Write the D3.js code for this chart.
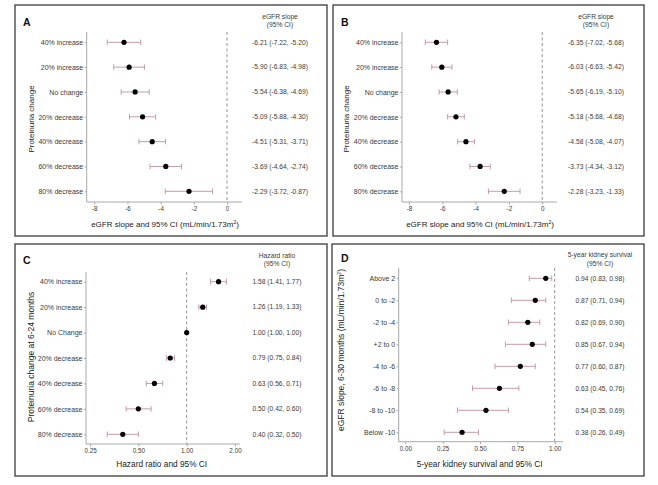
<!DOCTYPE html>
<html><head><meta charset="utf-8">
<script src="https://cdn.jsdelivr.net/npm/d3@7"></script>
<style>
html,body{margin:0;padding:0;background:#fff;}
svg{display:block;font-family:"Liberation Sans",Arial,Helvetica,sans-serif;}
</style></head>
<body>
<svg id="chart" width="658" height="485"></svg>
<script>
// ---------- DATA ----------
const catsAB = ["40% increase","20% increase","No change","20% decrease","40% decrease","60% decrease","80% decrease"];
const catsC  = ["40% increase","20% increase","No Change","20% decrease","40% decrease","60% decrease","80% decrease"];
const catsD  = ["Above 2","0 to -2","-2 to -4","+2 to 0","-4 to -6","-6 to -8","-8 to -10","Below -10"];

const estA = [-6.21,-5.90,-5.54,-5.09,-4.51,-3.69,-2.29];
const loA  = [-7.22,-6.83,-6.38,-5.88,-5.31,-4.64,-3.72];
const hiA  = [-5.20,-4.98,-4.69,-4.30,-3.71,-2.74,-0.87];

const estB = [-6.35,-6.03,-5.65,-5.18,-4.58,-3.73,-2.28];
const loB  = [-7.02,-6.63,-6.19,-5.68,-5.08,-4.34,-3.23];
const hiB  = [-5.68,-5.42,-5.10,-4.68,-4.07,-3.12,-1.33];

const estC = [1.58,1.26,1.00,0.79,0.63,0.50,0.40];
const loC  = [1.41,1.19,1.00,0.75,0.56,0.42,0.32];
const hiC  = [1.77,1.33,1.00,0.84,0.71,0.60,0.50];

const estD = [0.94,0.87,0.82,0.85,0.77,0.63,0.54,0.38];
const loD  = [0.83,0.71,0.69,0.67,0.60,0.45,0.35,0.26];
const hiD  = [0.98,0.94,0.90,0.94,0.87,0.76,0.69,0.49];

const ticksAB = [-8,-6,-4,-2,0];
const ticksC  = [0.25,0.5,1,2];
const ticksD  = [0,0.25,0.5,0.75,1];

// ---------- DRAW ----------
const svg = d3.select("#chart");
const ERR = "#c99aa6", AXIS = "#a8a8a8", TXT = "#3a3a3a";
const fmt = v => v.toFixed(2);

function panel(p){
  const g = svg.append("g");
  g.append("rect").attr("x",p.box[0]).attr("y",p.box[1])
    .attr("width",p.box[2]-p.box[0]).attr("height",p.box[3]-p.box[1])
    .attr("fill","none").attr("stroke","#3a3a3a").attr("stroke-width",1.3);
  g.append("text").attr("x",p.letter[0]).attr("y",p.letter[1])
    .attr("font-size",10.5).attr("font-weight","bold").attr("fill","#111").text(p.name);

  const x = p.scale.range([p.xr[0],p.xr[1]]);
  const y = d3.scalePoint().domain(p.cats).range([p.rows[0],p.rows[1]]);

  g.append("line").attr("x1",x(p.ref)).attr("x2",x(p.ref))
    .attr("y1",p.yTop).attr("y2",p.yBot)
    .attr("stroke","#888").attr("stroke-width",0.9).attr("stroke-dasharray","3,2.5");

  const xa = g.append("g").attr("transform",`translate(0,${p.yBot})`)
    .call(d3.axisBottom(x).tickValues(p.ticks).tickFormat(p.tf).tickSize(2.5).tickSizeOuter(0));
  xa.select(".domain").attr("d",`M${p.xr[0]},0H${p.xr[1]}`).attr("stroke",AXIS);
  xa.selectAll(".tick line").attr("stroke",AXIS);
  xa.selectAll(".tick text").attr("fill",TXT).attr("font-size",6.3).attr("dy","0.6em")
    .attr("font-family","Liberation Sans, Arial, sans-serif");

  const ya = g.append("g").attr("transform",`translate(${p.xr[0]},0)`)
    .call(d3.axisLeft(y).tickSize(2).tickPadding(1.5));
  ya.select(".domain").attr("d",`M0,${p.yTop}V${p.yBot}`).attr("stroke",AXIS);
  ya.selectAll(".tick line").attr("stroke",AXIS);
  ya.selectAll(".tick text").attr("fill",TXT).attr("font-size",7)
    .attr("font-family","Liberation Sans, Arial, sans-serif");

  const data = p.cats.map((c,i)=>({c, e:p.est[i], lo:p.lo[i], hi:p.hi[i]}));
  const cap = 2.8;
  const eb = g.append("g").selectAll("g").data(data).join("g");
  eb.append("line").attr("x1",d=>x(d.lo)).attr("x2",d=>x(d.hi))
    .attr("y1",d=>y(d.c)).attr("y2",d=>y(d.c)).attr("stroke",ERR).attr("stroke-width",1);
  eb.append("line").attr("x1",d=>x(d.lo)).attr("x2",d=>x(d.lo))
    .attr("y1",d=>y(d.c)-cap).attr("y2",d=>y(d.c)+cap).attr("stroke",ERR).attr("stroke-width",1);
  eb.append("line").attr("x1",d=>x(d.hi)).attr("x2",d=>x(d.hi))
    .attr("y1",d=>y(d.c)-cap).attr("y2",d=>y(d.c)+cap).attr("stroke",ERR).attr("stroke-width",1);
  eb.append("circle").attr("cx",d=>x(d.e)).attr("cy",d=>y(d.c)).attr("r",2.6).attr("fill","#000");

  g.append("g").selectAll("text").data(data).join("text")
    .attr("x",p.txtX).attr("y",d=>y(d.c)).attr("dy","0.35em").attr("text-anchor","middle")
    .attr("font-size",6.7).attr("fill",TXT)
    .text(d=>`${fmt(d.e)} (${fmt(d.lo)}, ${fmt(d.hi)})`);
  p.head.forEach((h,i)=>{
    g.append("text").attr("x",p.txtX).attr("y",p.headY[i]).attr("dy","0.35em")
      .attr("text-anchor","middle").attr("font-size",6.7).attr("fill",TXT).text(h);
  });

  const xt = g.append("text").attr("x",p.xt[0]).attr("y",p.xt[1]).attr("dy","0.35em")
    .attr("text-anchor","middle").attr("font-size",p.tfs).attr("fill","#222");
  p.xtitle(xt);
  const yt = g.append("text").attr("transform",`translate(${p.yt[0]},${p.yt[1]}) rotate(-90)`)
    .attr("dy","0.35em").attr("text-anchor","middle").attr("font-size",p.yfs).attr("fill","#222");
  p.ytitle(yt);
}

function unitTitle(sel, pre){
  sel.append("tspan").text(pre + "(mL/min/1.73m");
  sel.append("tspan").attr("font-size",5).attr("dy","-3.2").text("2");
  sel.append("tspan").attr("dy","3.2").text(")");
}
const plain = s => sel => sel.text(s);
const tfNum = d => String(d);
const tf2 = d => d.toFixed(2);

panel({name:"A", box:[15,5,327,236], letter:[23,26],
  scale:d3.scaleLinear().domain([-8.458,0.886]), xr:[86.7,241.7], ticks:ticksAB, tf:tfNum, ref:0,
  cats:catsAB, rows:[42.3,191.3], yTop:32, yBot:202,
  est:estA, lo:loA, hi:hiA, txtX:280, head:["eGFR slope","(95% CI)"], headY:[17,24.5],
  xt:[165,224], yt:[31.5,119], tfs:8, yfs:8,
  xtitle:s=>unitTitle(s,"eGFR slope and 95% CI "), ytitle:plain("Proteinuria change")});

panel({name:"B", box:[333,5,644,236], letter:[341,26],
  scale:d3.scaleLinear().domain([-8.42,0.887]), xr:[402,557], ticks:ticksAB, tf:tfNum, ref:0,
  cats:catsAB, rows:[42.3,191.3], yTop:32, yBot:202,
  est:estB, lo:loB, hi:hiB, txtX:596, head:["eGFR slope","(95% CI)"], headY:[17,24.5],
  xt:[480,224], yt:[346,119], tfs:8, yfs:8,
  xtitle:s=>unitTitle(s,"eGFR slope and 95% CI "), ytitle:plain("Proteinuria change")});

panel({name:"C", box:[15,244,327,476], letter:[23,264],
  scale:d3.scaleLog().base(2).domain([0.25*Math.pow(2,-4/48.33),2*Math.pow(2,5/48.33)]), xr:[86,240], ticks:ticksC, tf:tf2, ref:1,
  cats:catsC, rows:[281.7,434.3], yTop:272, yBot:444,
  est:estC, lo:loC, hi:hiC, txtX:277, head:["Hazard ratio","(95% CI)"], headY:[255.7,264],
  xt:[161.7,464], yt:[31.5,357], tfs:8.3, yfs:8.5,
  xtitle:plain("Hazard ratio and 95% CI"), ytitle:plain("Proteinuria change at 6-24 months")});

panel({name:"D", box:[332,244,644,476], letter:[341,262],
  scale:d3.scaleLinear().domain([-6.6/149.4,1+8.3/149.4]), xr:[398.7,563], ticks:ticksD, tf:tf2, ref:1,
  cats:catsD, rows:[278.3,432.3], yTop:268, yBot:441.7,
  est:estD, lo:loD, hi:hiD, txtX:600, head:["5-year kidney survival","(95% CI)"], headY:[255,264],
  xt:[479.7,464], yt:[341,350], tfs:8.3, yfs:8.5,
  xtitle:plain("5-year kidney survival and 95% CI"),
  ytitle:s=>unitTitle(s,"eGFR slope, 6-30 months ")});
</script>
</body></html>
